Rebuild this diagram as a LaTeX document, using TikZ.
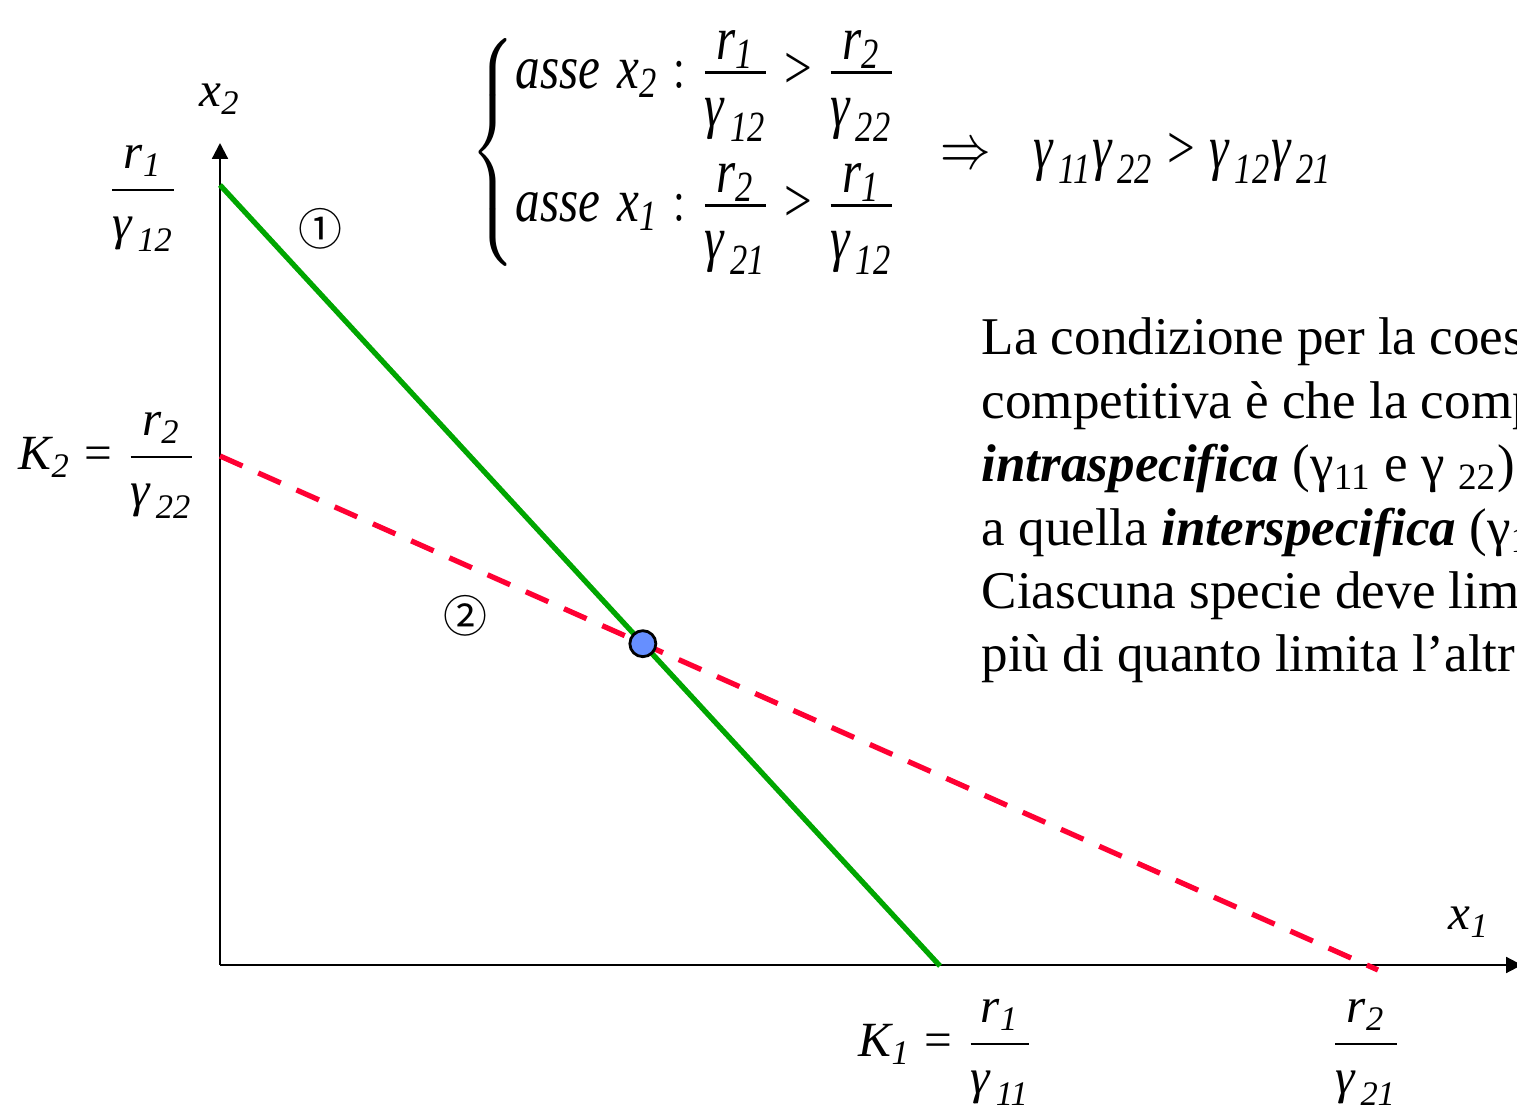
\documentclass[tikz,border=0pt]{standalone}
\usepackage{amsmath}
\usepackage{fontspec}
\setmainfont{Liberation Serif}
\newfontfamily\cerchiati{Noto Sans CJK JP}
\usetikzlibrary{arrows.meta}

\newcommand{\vsub}[2]{\textit{#1}_{\textit{#2}}}
\newcommand{\gsub}[1]{\textit{γ}_{\,\textit{#1}}}
\newcommand{\ug}{\mathrel{\textrm{=}}}
\newcommand{\magg}{\mathrel{\textrm{>}}}
\newcommand{\rfrac}[2]{\dfrac{#1}{\rule{0pt}{12pt}#2}}
\newcommand{\sfrac}[2]{\genfrac{}{}{}{1}{\textstyle #1}{\textstyle\rule{0pt}{11.4pt}#2}}

\definecolor{verdeiso}{RGB}{0,166,0}
\definecolor{rossoiso}{RGB}{255,0,51}
\definecolor{bluept}{RGB}{102,143,255}

\tikzset{
  asse/.style={line width=0.6pt, -{Triangle[length=4.5pt,width=4.5pt]}},
  iso1/.style={verdeiso, line width=1.5pt},
  iso2/.style={rossoiso, line width=1.5pt, dash pattern=on 7pt off 4.9pt},
  eqpt/.style={circle, draw=black, line width=0.8pt, fill=bluept, minimum size=0.26cm, inner sep=0pt},
  lab/.style={font=\fontsize{14}{16}\selectfont, inner sep=0pt},
  cerchio/.style={font=\cerchiati\fontsize{12.5}{14}\selectfont, inner sep=0pt},
  testo/.style={font=\fontsize{15.1}{18}\selectfont, inner sep=0pt}
}

\begin{document}
\begin{tikzpicture}
  \useasboundingbox (0,0) rectangle (15.17,11.08);
  \clip (0,0) rectangle (15.17,11.08);

  % assi
  \coordinate (O) at (2.20,1.43);
  \coordinate (ytip) at (2.20,9.65);
  \coordinate (xtip) at (15.22,1.43);
  \draw[asse] (O) -- (ytip);
  \draw[asse] (O) -- (xtip);

  % isocline
  \coordinate (a1) at (2.20,9.23);
  \coordinate (b1) at (9.40,1.42);
  \coordinate (a2) at (2.20,6.52);
  \coordinate (b2) at (13.78,1.38);
  \draw[iso2] (a2) -- (b2);
  \draw[iso1] (a1) -- (b1);
  \node[eqpt] (eq) at (intersection of a1--b1 and a2--b2) {};

  \node[cerchio] (n1) at (3.20,8.79) {①};
  \node[cerchio] (n2) at (4.65,4.92) {②};

  % etichette assi
  \node[lab, anchor=base] (lx2) at (2.20,10.01) {$\vsub{x}{2}$};
  \node[lab, anchor=base west] (lx1) at (14.48,1.78) {$\vsub{x}{1}$};
  \node[lab, anchor=base] (f12) at (1.43,9.05) {$\rfrac{\vsub{r}{1}}{\gsub{12}}$};
  \node[lab, anchor=base west] (k2) at (0.18,6.38) {$\vsub{K}{2} \ug \rfrac{\vsub{r}{2}}{\gsub{22}}$};
  \node[lab, anchor=base west] (k1) at (8.58,0.51) {$\vsub{K}{1} \ug \rfrac{\vsub{r}{1}}{\gsub{11}}$};
  \node[lab, anchor=base] (f21) at (13.66,0.51) {$\rfrac{\vsub{r}{2}}{\gsub{21}}$};

  % sistema
  \node[lab, anchor=west] (sistema) at (4.70,9.555) {\scalebox{1}[1.25]{$\left\{\begin{array}{@{}l@{}}
      \textit{asse}\hspace{5pt} \vsub{x}{2} : \sfrac{\vsub{r}{1}}{\gsub{12}} \magg \sfrac{\vsub{r}{2}}{\gsub{22}} \\[12.2pt]
      \textit{asse}\hspace{5pt} \vsub{x}{1} : \sfrac{\vsub{r}{2}}{\gsub{21}} \magg \sfrac{\vsub{r}{1}}{\gsub{12}}
    \end{array}\right. \hspace{9pt} {\Rightarrow} \hspace{12pt} \gsub{11}\gsub{22} \magg \gsub{12}\gsub{21}$}};

  % testo
  \foreach \riga [count=\i] in {La condizione per la coes, competitiva è che la comp,
      {\textbf{\textit{intraspecifica}} (γ\textsubscript{11} e γ \textsubscript{22})},
      {a quella \textbf{\textit{interspecifica}} (γ\textsubscript{1}},
      Ciascuna specie deve lim, più di quanto limita l’altr}
    \node[testo, anchor=base west] (riga\i) at (9.81,{7.53-0.634*(\i-1)}) {\riga};
\end{tikzpicture}
\end{document}
